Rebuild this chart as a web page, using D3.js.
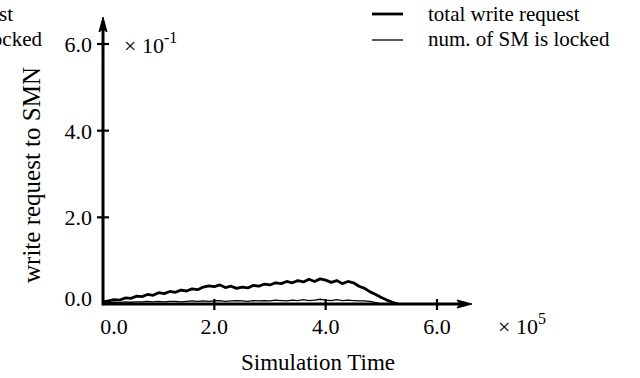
<!DOCTYPE html>
<html>
<head>
<meta charset="utf-8">
<script src="https://cdn.jsdelivr.net/npm/d3@7"></script>
<style>
  body { margin: 0; background: #fff; }
  svg { display: block; }
  text { font-family: 'Liberation Serif', 'Times New Roman', serif; fill: #000; }
</style>
</head>
<body>
<svg id="chart"></svg>
<script>
var WIDTH = 640;
var HEIGHT = 378;

// simulation time, x 10^5
var timeSteps = [0.0, 0.1, 0.2, 0.3, 0.4, 0.5, 0.6, 0.7, 0.8, 0.9,
  1.0, 1.1, 1.2, 1.3, 1.4, 1.5, 1.6, 1.7, 1.8, 1.9,
  2.0, 2.1, 2.2, 2.3, 2.4, 2.5, 2.6, 2.7, 2.8, 2.9,
  3.0, 3.1, 3.2, 3.3, 3.4, 3.5, 3.6, 3.7, 3.8, 3.9,
  4.0, 4.1, 4.2, 4.3, 4.4, 4.5, 4.6, 4.7, 4.8, 4.9,
  5.0, 5.1, 5.2, 5.3];

// total write request, x 10^-1
var totalWrite = [0.05, 0.07, 0.10, 0.09, 0.14, 0.13, 0.18, 0.17, 0.22, 0.20,
  0.26, 0.24, 0.29, 0.27, 0.32, 0.30, 0.35, 0.33, 0.39, 0.42,
  0.40, 0.44, 0.38, 0.41, 0.36, 0.39, 0.37, 0.43, 0.41, 0.46,
  0.44, 0.49, 0.47, 0.52, 0.49, 0.54, 0.51, 0.57, 0.52, 0.58,
  0.55, 0.50, 0.54, 0.47, 0.52, 0.49, 0.41, 0.36, 0.28, 0.22,
  0.15, 0.09, 0.04, 0.00];

// num. of SM is locked, x 10^-1
var smLocked = [0.02, 0.03, 0.04, 0.03, 0.05, 0.04, 0.05, 0.05, 0.06, 0.05,
  0.06, 0.05, 0.06, 0.06, 0.05, 0.06, 0.07, 0.06, 0.07, 0.06,
  0.07, 0.08, 0.06, 0.07, 0.08, 0.07, 0.06, 0.08, 0.07, 0.08,
  0.07, 0.09, 0.08, 0.07, 0.09, 0.08, 0.10, 0.08, 0.09, 0.11,
  0.09, 0.08, 0.10, 0.08, 0.09, 0.08, 0.07, 0.07, 0.06, 0.03,
  0.00, 0.00, 0.00, 0.00];

var xTicks = [0, 2, 4, 6];
var yTicks = [0, 2, 4, 6];
var xTickLabels = ['0.0', '2.0', '4.0', '6.0'];
var yTickLabels = ['0.0', '2.0', '4.0', '6.0'];
var legendLabels = ['total write request', 'num. of SM is locked'];

var svg = d3.select('#chart')
  .attr('width', WIDTH)
  .attr('height', HEIGHT);

svg.append('rect').attr('width', WIDTH).attr('height', HEIGHT).attr('fill', '#fff');

var xScale = d3.scaleLinear().domain([0, 6]).range([103, 437]);
var yScale = d3.scaleLinear().domain([0, 6]).range([304, 44]);

// clipped leftovers of a neighbouring legend at the left edge (cut in the original too)
svg.append('text').attr('x', 13).attr('y', 21).attr('text-anchor', 'end')
  .style('font-size', '21px').text(legendLabels[0]);
svg.append('text').attr('x', 42).attr('y', 46).attr('text-anchor', 'end')
  .style('font-size', '21px').text(legendLabels[1]);

// series
var line = d3.line()
  .x(function(d, i) { return xScale(timeSteps[i]); })
  .y(function(d) { return yScale(d); });

svg.append('path').datum(smLocked)
  .attr('d', line)
  .attr('fill', 'none')
  .attr('stroke', '#000')
  .attr('stroke-width', 1.3);

svg.append('path').datum(totalWrite)
  .attr('d', line)
  .attr('fill', 'none')
  .attr('stroke', '#000')
  .attr('stroke-width', 2.8)
  .attr('stroke-linejoin', 'round');

// axes
var x0 = xScale(0);
var y0 = yScale(0);

svg.append('line')
  .attr('x1', x0).attr('x2', 464).attr('y1', y0).attr('y2', y0)
  .attr('stroke', '#000').attr('stroke-width', 3);
svg.append('path')
  .attr('d', 'M472,' + y0 + 'L457,' + (y0 - 4) + 'L460,' + y0 + 'L457,' + (y0 + 4) + 'Z')
  .attr('fill', '#000').attr('stroke', '#000').attr('stroke-width', 1);

svg.append('line')
  .attr('x1', x0).attr('x2', x0).attr('y1', y0 + 1.5).attr('y2', 26)
  .attr('stroke', '#000').attr('stroke-width', 3);
svg.append('path')
  .attr('d', 'M' + x0 + ',17L' + (x0 - 4) + ',32L' + x0 + ',29L' + (x0 + 4) + ',32Z')
  .attr('fill', '#000').attr('stroke', '#000').attr('stroke-width', 1);

// x ticks
svg.selectAll('.xtick').data(xTicks.slice(1)).enter().append('line')
  .attr('class', 'xtick')
  .attr('x1', function(d) { return xScale(d); })
  .attr('x2', function(d) { return xScale(d); })
  .attr('y1', y0 - 5).attr('y2', y0 + 6)
  .attr('stroke', '#000').attr('stroke-width', 2.2);

svg.selectAll('.xlabel').data(xTicks).enter().append('text')
  .attr('class', 'xlabel')
  .attr('x', function(d, i) { return i === 0 ? xScale(d) + 11 : xScale(d); })
  .attr('y', 334)
  .attr('text-anchor', 'middle')
  .style('font-size', '22px')
  .text(function(d, i) { return xTickLabels[i]; });

// y ticks
svg.selectAll('.ytick').data(yTicks.slice(1)).enter().append('line')
  .attr('class', 'ytick')
  .attr('x1', x0 - 6).attr('x2', x0 + 6)
  .attr('y1', function(d) { return yScale(d); })
  .attr('y2', function(d) { return yScale(d); })
  .attr('stroke', '#000').attr('stroke-width', 2.2);

svg.selectAll('.ylabel').data(yTicks).enter().append('text')
  .attr('class', 'ylabel')
  .attr('x', 92)
  .attr('y', function(d, i) { return i === 0 ? yScale(d) + 2 : yScale(d) + 8; })
  .attr('text-anchor', 'end')
  .style('font-size', '22px')
  .text(function(d, i) { return yTickLabels[i]; });

// exponents
var yExp = svg.append('text').attr('x', 124).attr('y', 53).style('font-size', '22px');
yExp.append('tspan').text('\u00d7 10');
yExp.append('tspan').attr('dy', -10).style('font-size', '16px').text('-1');

var xExp = svg.append('text').attr('x', 498).attr('y', 334).style('font-size', '22px');
xExp.append('tspan').text('\u00d7 10');
xExp.append('tspan').attr('dy', -10).style('font-size', '16px').text('5');

// axis titles
svg.append('text')
  .attr('transform', 'translate(40,175) rotate(-90)')
  .attr('text-anchor', 'middle')
  .style('font-size', '25px')
  .text('write request to SMN');

svg.append('text')
  .attr('x', 318).attr('y', 370)
  .attr('text-anchor', 'middle')
  .style('font-size', '23px')
  .text('Simulation Time');

// legend
var legend = svg.append('g');
legend.append('line').attr('x1', 372).attr('x2', 403).attr('y1', 14).attr('y2', 14)
  .attr('stroke', '#000').attr('stroke-width', 2.8);
legend.append('line').attr('x1', 372).attr('x2', 403).attr('y1', 40).attr('y2', 40)
  .attr('stroke', '#000').attr('stroke-width', 1.3);
legend.append('text').attr('x', 428).attr('y', 21).style('font-size', '21px').text(legendLabels[0]);
legend.append('text').attr('x', 428).attr('y', 46).style('font-size', '21px').text(legendLabels[1]);
</script>
</body>
</html>
